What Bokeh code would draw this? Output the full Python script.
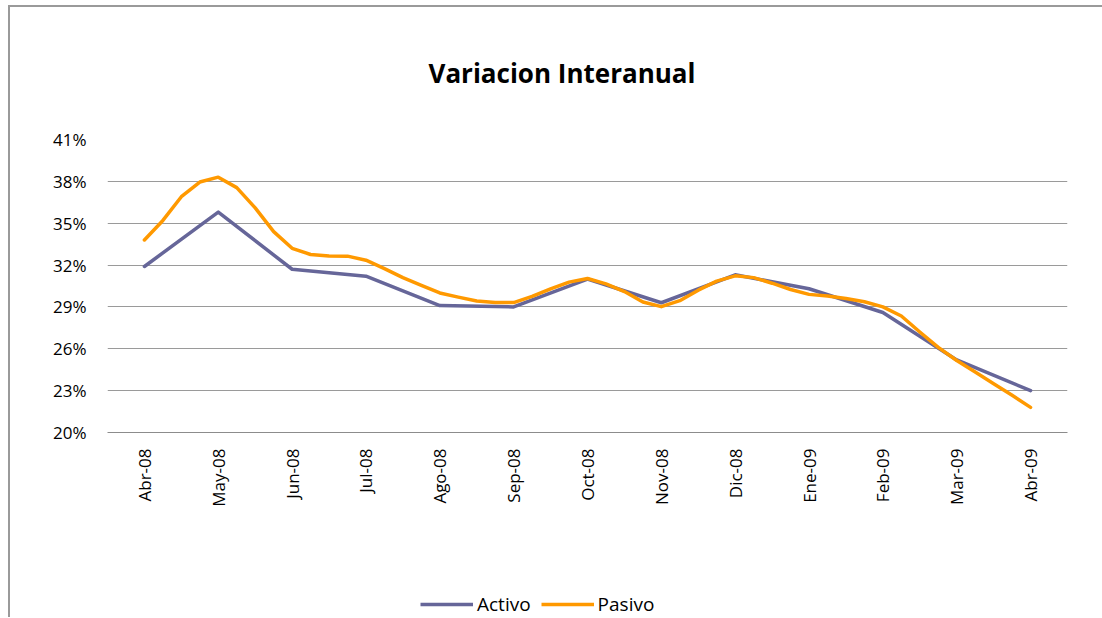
import math
from bokeh.plotting import figure
from bokeh.layouts import column
from bokeh.models import FixedTicker, Legend, LegendItem, Title
from bokeh.embed import file_html
from bokeh.resources import INLINE

# ---- data ----
months = ["Abr-08", "May-08", "Jun-08", "Jul-08", "Ago-08", "Sep-08", "Oct-08",
          "Nov-08", "Dic-08", "Ene-09", "Feb-09", "Mar-09", "Abr-09"]
activo = [31.9, 35.8, 31.7, 31.2, 29.1, 29.0, 31.0, 29.3, 31.3, 30.3, 28.6, 25.2, 23.0]

# Pasivo is drawn with a finer time step (quarter-month readings)
pasivo_t = [0.0, 0.25, 0.5, 0.75, 1.0, 1.25, 1.5, 1.75, 2.0, 2.25, 2.5, 2.75,
            3.0, 3.25, 3.5, 3.75, 4.0, 4.25, 4.5, 4.75, 5.0, 5.25, 5.5, 5.75,
            6.0, 6.25, 6.5, 6.75, 7.0, 7.25, 7.5, 7.75, 8.0, 8.25, 8.5, 8.75,
            9.0, 9.25, 9.5, 9.75, 10.0, 10.25, 10.5, 10.75, 11.0, 11.25, 11.5, 11.75, 12.0]
pasivo = [33.8, 35.2, 36.9, 37.95, 38.3, 37.55, 36.1, 34.4, 33.2, 32.76, 32.65, 32.64,
          32.35, 31.75, 31.1, 30.55, 30.0, 29.7, 29.42, 29.31, 29.31, 29.75, 30.3, 30.78,
          31.04, 30.65, 30.1, 29.35, 29.02, 29.45, 30.2, 30.85, 31.23, 31.1, 30.7, 30.25,
          29.9, 29.78, 29.6, 29.37, 29.0, 28.35, 27.2, 26.1, 25.16, 24.33, 23.5, 22.67, 21.8]

y_ticks = [20, 23, 26, 29, 32, 35, 38, 41]
y_labels = ["20%", "23%", "26%", "29%", "32%", "35%", "38%", "41%"]

title_text = "Variacion Interanual"
series_names = ["Activo", "Pasivo"]
colors = ["#666699", "#FF9900"]

# ---- main figure ----
month_idx = list(range(len(months)))

p = figure(width=1092, height=525, output_backend="svg", toolbar_location=None,
           x_range=(-0.5, len(months) - 0.5), y_range=(y_ticks[0], y_ticks[-1]),
           min_border_left=97, min_border_right=35, min_border_top=132, min_border_bottom=100)
p.outline_line_color = None
p.background_fill_color = "white"
p.border_fill_color = "white"

p.line(month_idx, activo, line_color=colors[0], line_width=3.5,
       line_join="round", line_cap="round")
p.line(pasivo_t, pasivo, line_color=colors[1], line_width=3.5,
       line_join="round", line_cap="round")

# x axis
p.xaxis.ticker = FixedTicker(ticks=month_idx)
p.xaxis.major_label_overrides = {i: m for i, m in zip(month_idx, months)}
p.xaxis.major_label_orientation = math.pi / 2
p.xaxis.major_tick_out = 0
p.xaxis.major_tick_in = 0
p.xaxis.minor_tick_out = 0
p.xaxis.minor_tick_in = 0
p.xaxis.major_label_standoff = 16
p.xaxis.axis_line_color = "#8c8c8c"
p.xaxis.major_label_text_font = "Open Sans"
p.xaxis.major_label_text_font_size = "17px"
p.xaxis.major_label_text_color = "black"
p.xgrid.grid_line_color = None

# y axis
p.yaxis.ticker = FixedTicker(ticks=y_ticks)
p.yaxis.major_label_overrides = {t: l for t, l in zip(y_ticks, y_labels)}
p.yaxis.axis_line_color = None
p.yaxis.major_tick_out = 0
p.yaxis.major_tick_in = 0
p.yaxis.minor_tick_out = 0
p.yaxis.minor_tick_in = 0
p.yaxis.major_label_standoff = 21
p.yaxis.major_label_text_font = "Open Sans"
p.yaxis.major_label_text_font_size = "17px"
p.yaxis.major_label_text_color = "black"
p.ygrid.ticker = FixedTicker(ticks=y_ticks)
p.ygrid.grid_line_color = "#9a9a9a"
p.ygrid.grid_line_width = 1

# title (outermost above panel) with a blank spacer between it and the frame
p.title.text = title_text
p.title.align = "left"
p.title.offset = 321
p.title.text_font = "Open Sans"
p.title.text_font_style = "bold"
p.title.text_font_size = "26px"
p.title.text_color = "black"
p.add_layout(Title(text=" ", text_font_size="29px"), "above")

# ---- legend strip (separate small figure below, frame aligned with main frame) ----
lg = figure(width=1092, height=85, output_backend="svg", toolbar_location=None,
            x_axis_type=None, y_axis_type=None, x_range=(0, 1), y_range=(0, 1),
            min_border=0)
lg.outline_line_color = None
lg.grid.grid_line_color = None
lg.background_fill_color = "white"
lg.border_fill_color = "white"
# legend-only renderers, placed outside the visible range
l1 = lg.line([5, 6], [5, 5], line_color=colors[0], line_width=3.5)
l2 = lg.line([5, 6], [5, 5], line_color=colors[1], line_width=3.5)
legend = Legend(items=[LegendItem(label=series_names[0], renderers=[l1]),
                       LegendItem(label=series_names[1], renderers=[l2])],
                orientation="horizontal", location=(313, 0),
                glyph_width=53, glyph_height=18, label_height=18, label_standoff=4,
                spacing=10, padding=0, margin=0,
                border_line_color=None, background_fill_alpha=0,
                label_text_font="Open Sans", label_text_font_size="19px",
                label_text_color="black")
lg.add_layout(legend)

layout = column(p, lg, spacing=0,
                styles={"border-left": "2px solid #9a9a9a", "border-top": "2px solid #9a9a9a",
                        "margin-left": "8px", "margin-top": "5px"})

open("out.html", "w").write(file_html(layout, INLINE))
